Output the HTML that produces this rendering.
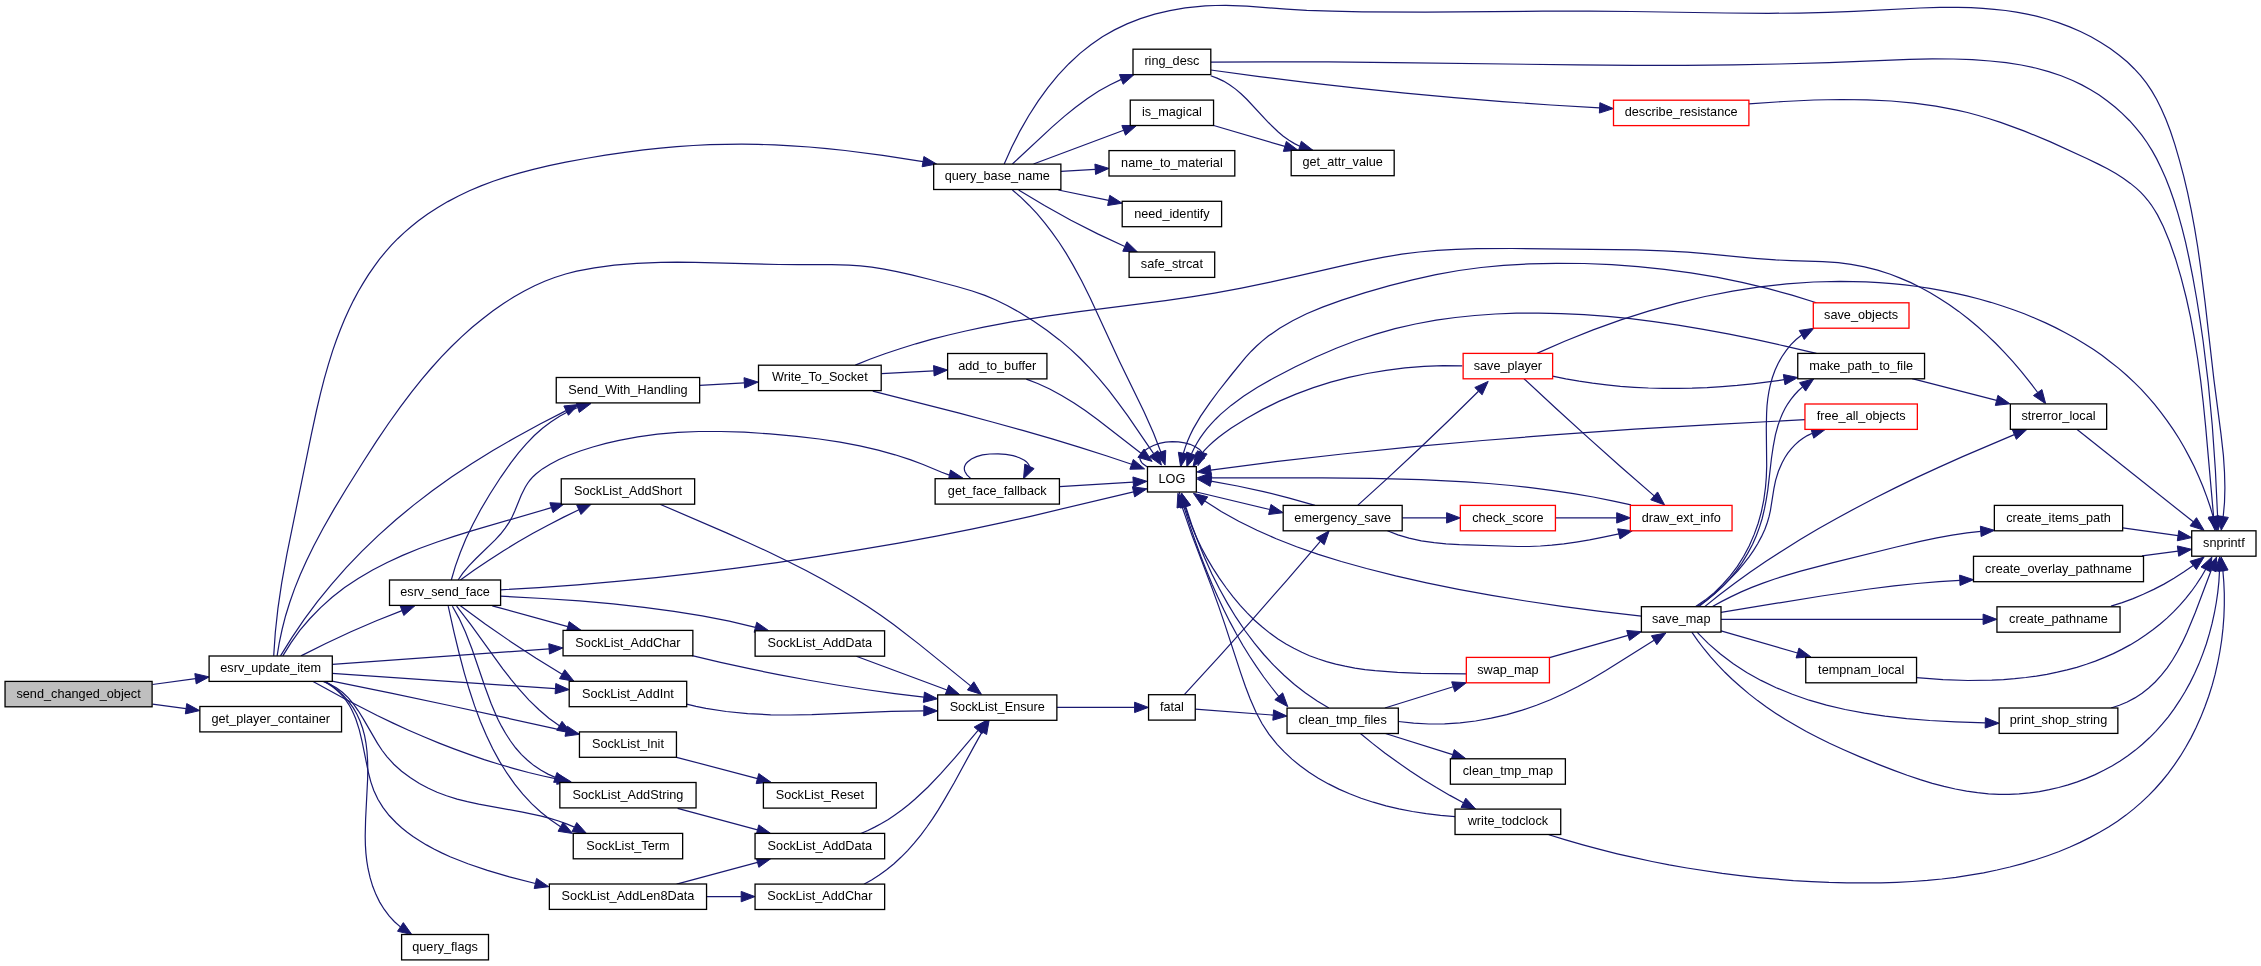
<!DOCTYPE html>
<html><head><meta charset="utf-8"><style>
html,body{margin:0;padding:0;background:#fff;overflow:hidden}
svg{display:block;will-change:transform}
.e{fill:none;stroke:#191970;stroke-width:1.2}
.a{fill:#191970;stroke:#191970;stroke-width:1}
rect{stroke-width:1.3}
text{font-family:"Liberation Sans",sans-serif;font-size:12.7px;text-anchor:middle;fill:#000}
</style></head><body>
<svg width="2261" height="966" viewBox="0 0 2261 966">
<path d="M152.5,684.5 L195.5,678.7" class="e"/>
<polygon points="209.20,676.90 196.21,683.89 194.83,673.58" class="a"/>
<path d="M152.5,704.2 L186.0,708.7" class="e"/>
<polygon points="199.70,710.60 185.33,713.90 186.72,703.59" class="a"/>
<path d="M301.0,655.9 L325.8,643.5 L350.9,631.8 L376.4,620.8 L402.0,610.6" class="e"/>
<polygon points="414.90,605.80 403.80,615.51 400.15,605.77" class="a"/>
<path d="M332.4,664.3 L549.1,648.9" class="e"/>
<polygon points="562.90,647.90 549.50,654.07 548.77,643.69" class="a"/>
<path d="M332.1,673.4 L555.4,688.7" class="e"/>
<polygon points="569.20,689.60 555.08,693.85 555.79,683.47" class="a"/>
<path d="M332.1,681.2 L391.0,693.2 L449.4,705.5 L507.7,718.2 L566.1,731.2" class="e"/>
<polygon points="579.60,734.30 564.99,736.31 567.29,726.17" class="a"/>
<path d="M312.6,681.2 L345.5,699.3 L377.2,715.5 L393.1,723.1 L408.6,730.2 L423.8,736.8 L439.1,743.1 L454.0,748.9 L469.1,754.4 L484.2,759.6 L499.1,764.3 L514.0,768.6 L528.5,772.5 L543.1,776.0 L557.6,779.2" class="e"/>
<polygon points="571.20,781.80 556.67,784.30 558.63,774.09" class="a"/>
<path d="M322.4,681.2 L329.5,684.0 L336.3,687.8 L342.4,692.2 L348.1,697.6 L353.2,703.6 L358.3,710.8 L363.3,718.9 L377.5,743.4 L382.2,750.5 L387.1,756.8 L393.8,764.2 L401.6,771.2 L410.1,777.6 L419.4,783.5 L427.9,788.0 L437.1,792.2 L446.5,795.8 L457.1,799.1 L467.3,801.7 L478.7,804.2 L522.6,812.1 L540.3,815.8 L550.0,818.4 L558.6,821.0 L566.6,823.9 L574.4,827.1" class="e"/>
<polygon points="586.60,833.50 571.96,831.76 576.75,822.53" class="a"/>
<path d="M323.8,681.2 L328.3,683.9 L332.5,686.7 L336.3,689.8 L340.1,693.3 L343.2,696.7 L346.2,700.7 L349.0,704.8 L351.6,709.5 L353.7,714.0 L355.8,719.0 L359.3,729.9 L362.0,741.2 L368.5,773.0 L370.9,782.1 L373.8,790.4 L377.9,799.2 L382.9,807.4 L389.2,815.5 L396.4,823.0 L401.6,827.7 L407.2,832.2 L413.0,836.5 L419.6,840.8 L426.4,844.9 L433.9,849.0 L441.7,852.9 L450.1,856.7 L467.9,863.8 L487.4,870.4 L509.4,876.8 L535.4,883.5" class="e"/>
<polygon points="548.80,886.70 534.17,888.53 536.60,878.41" class="a"/>
<path d="M325.2,681.2 L331.7,685.6 L338.0,690.5 L343.5,695.7 L348.7,701.6 L353.1,707.7 L356.8,714.0 L360.0,721.0 L362.6,728.3 L364.6,735.7 L366.0,743.3 L367.0,751.5 L367.6,760.9 L367.8,769.9 L367.6,779.5 L365.6,819.2 L365.2,836.0 L365.4,845.1 L365.9,853.1 L366.8,861.1 L368.0,868.5 L370.1,877.7 L372.7,886.3 L376.0,894.6 L379.7,902.1 L384.1,909.2 L389.1,915.9 L394.5,921.7 L400.4,926.9" class="e"/>
<polygon points="411.90,934.60 397.54,931.26 403.31,922.61" class="a"/>
<path d="M273.7,655.9 L275.3,632.5 L277.9,608.6 L281.7,582.9 L286.9,554.1 L311.2,435.1 L316.5,410.5 L320.4,393.8 L324.3,378.7 L328.4,364.3 L332.6,350.9 L336.4,340.0 L340.3,329.8 L344.5,319.6 L348.8,310.0 L353.4,300.6 L358.1,291.8 L363.2,283.1 L368.5,274.7 L373.9,266.8 L379.5,259.2 L385.5,251.9 L391.4,245.2 L397.7,238.7 L404.2,232.6 L411.0,226.7 L418.4,220.8 L427.7,214.0 L437.4,207.7 L447.8,201.6 L458.5,196.0 L469.4,190.8 L481.0,185.9 L493.2,181.3 L505.6,177.1 L519.2,173.1 L533.3,169.4 L549.0,165.7 L565.8,162.2 L585.6,158.5 L605.4,155.2 L624.7,152.3 L643.5,149.9 L660.4,148.1 L676.8,146.7 L693.2,145.5 L709.7,144.7 L725.6,144.3 L741.6,144.2 L758.1,144.4 L774.6,144.9 L791.6,145.8 L809.1,147.0 L827.1,148.6 L845.1,150.5 L882.8,155.3 L923.0,161.6" class="e"/>
<polygon points="936.60,164.00 922.11,166.75 923.90,156.51" class="a"/>
<path d="M277.1,655.9 L279.3,642.5 L282.2,629.0 L285.6,615.7 L289.8,602.3 L294.6,588.6 L300.2,574.8 L306.5,560.7 L313.7,546.0 L323.0,528.5 L333.6,509.9 L346.5,488.5 L363.6,461.3 L376.4,441.4 L388.5,423.5 L400.2,407.1 L411.7,391.9 L421.7,379.4 L431.4,368.0 L441.4,356.9 L451.5,346.5 L461.5,336.9 L471.9,327.5 L482.4,319.0 L492.7,311.0 L503.5,303.5 L513.7,297.0 L524.3,291.0 L534.6,285.7 L544.7,281.2 L554.6,277.5 L565.6,274.0 L576.7,271.2 L594.4,267.8 L614.3,265.1 L636.7,263.3 L660.7,262.3 L677.2,262.1 L695.2,262.3 L778.9,264.5 L797.9,264.7 L831.5,264.6 L849.0,265.1 L860.4,265.8 L871.8,267.1 L884.1,269.1 L896.9,271.6 L911.6,274.9 L930.1,279.5 L956.8,286.5 L972.2,291.0 L984.9,295.4 L995.9,300.0 L1007.6,305.7 L1019.8,312.5 L1033.8,321.3 L1047.1,330.5 L1059.4,339.9 L1070.9,349.6 L1080.4,358.5 L1089.7,368.2 L1099.0,378.7 L1108.6,390.2 L1117.7,402.2 L1127.8,415.9 L1153.6,453.7" class="e"/>
<polygon points="1161.40,465.10 1149.35,456.60 1157.95,450.76" class="a"/>
<path d="M280.5,655.9 L292.0,637.4 L304.2,619.4 L317.4,601.7 L331.3,584.6 L346.2,567.7 L361.8,551.4 L378.4,535.4 L395.9,519.8 L413.6,505.1 L432.3,490.8 L451.5,477.1 L471.6,463.8 L492.9,450.6 L515.9,437.2 L540.1,424.0 L566.1,410.6" class="e"/>
<polygon points="578.50,404.50 568.45,415.29 563.83,405.98" class="a"/>
<path d="M282.8,655.9 L291.1,642.6 L300.0,630.2 L310.0,618.5 L320.6,607.6 L332.1,597.3 L344.6,587.6 L358.2,578.5 L372.6,570.0 L387.2,562.5 L402.6,555.4 L419.3,548.5 L437.2,542.0 L454.0,536.4 L472.4,530.6 L551.4,507.7" class="e"/>
<polygon points="564.60,503.50 553.01,512.61 549.87,502.70" class="a"/>
<path d="M460.4,580.0 L474.3,570.1 L488.5,560.5 L503.2,551.0 L517.8,542.1 L533.0,533.3 L548.0,525.2 L563.2,517.4 L578.9,509.8" class="e"/>
<polygon points="591.40,504.00 581.02,514.48 576.69,505.03" class="a"/>
<path d="M451.3,580.0 L455.3,566.4 L460.2,552.7 L465.9,538.8 L472.8,524.4 L480.6,509.8 L489.8,494.3 L500.7,477.3 L510.8,462.9 L518.5,452.9 L526.3,443.8 L534.3,435.5 L542.5,428.2 L550.8,421.9 L559.6,416.2 L568.4,411.5 L577.8,407.5" class="e"/>
<polygon points="591.00,403.50 579.28,412.45 576.29,402.49" class="a"/>
<path d="M458.1,580.0 L462.8,573.1 L468.9,565.8 L475.5,559.0 L495.2,539.9 L500.6,534.0 L505.2,528.1 L509.1,522.4 L512.2,516.7 L514.9,510.7 L521.2,495.2 L525.2,487.2 L527.5,483.5 L530.1,480.0 L533.0,476.7 L536.2,473.7 L542.4,468.9 L550.1,464.2 L559.0,459.5 L568.8,455.3 L580.2,451.0 L592.8,447.0 L605.9,443.4 L619.1,440.3 L637.8,436.8 L657.5,434.2 L677.9,432.4 L698.8,431.5 L720.8,431.5 L744.4,432.2 L769.9,433.9 L796.9,436.3 L819.3,439.0 L840.1,442.1 L859.8,445.9 L878.2,450.1 L895.1,454.8 L910.8,459.9 L923.1,464.5 L941.7,472.2 L949.4,475.1" class="e"/>
<polygon points="962.90,478.10 948.30,480.18 950.56,470.03" class="a"/>
<path d="M500.5,589.8 L539.0,587.6 L577.5,584.8 L616.9,581.4 L656.2,577.6 L696.0,573.1 L736.3,568.1 L777.0,562.6 L818.1,556.4 L858.6,549.9 L898.6,543.1 L936.5,536.1 L972.9,528.9 L1002.3,522.7 L1030.6,516.3 L1133.5,491.8" class="e"/>
<polygon points="1147.00,488.80 1134.67,496.89 1132.40,486.74" class="a"/>
<path d="M492.3,605.8 L567.8,626.6" class="e"/>
<polygon points="581.10,630.30 566.41,631.64 569.18,621.62" class="a"/>
<path d="M500.5,596.2 L543.0,598.5 L579.6,600.9 L613.1,603.9 L644.1,607.3 L674.0,611.3 L702.2,615.9 L729.3,621.2 L755.4,627.3" class="e"/>
<polygon points="768.80,630.70 754.14,632.29 756.74,622.22" class="a"/>
<path d="M460.4,605.8 L485.2,623.9 L510.4,641.4 L536.1,658.2 L562.1,674.2" class="e"/>
<polygon points="574.00,681.20 559.47,678.66 564.76,669.71" class="a"/>
<path d="M456.6,606.2 L470.8,624.6 L502.8,668.8 L511.2,679.6 L518.9,688.9 L529.0,700.1 L539.0,709.8 L548.9,718.2 L559.4,725.8" class="e"/>
<polygon points="571.20,732.90 556.69,730.27 562.04,721.35" class="a"/>
<path d="M452.4,606.2 L459.0,618.1 L465.4,632.1 L472.0,649.0 L485.0,687.0 L491.0,703.2 L494.5,711.6 L498.0,719.4 L501.6,726.4 L505.5,733.3 L510.5,741.0 L515.7,748.0 L521.5,754.6 L527.5,760.3 L534.0,765.6 L540.7,770.1 L548.0,774.1 L555.3,777.4" class="e"/>
<polygon points="568.40,781.80 553.66,782.37 556.95,772.51" class="a"/>
<path d="M448.2,606.2 L454.2,633.1 L459.3,654.0 L464.2,672.6 L469.3,689.8 L474.6,705.9 L480.3,721.2 L486.3,735.3 L492.6,748.5 L499.6,761.4 L507.0,773.2 L514.7,784.2 L522.8,794.2 L531.6,803.6 L540.7,812.0 L550.4,819.8 L560.6,826.7" class="e"/>
<polygon points="572.60,833.50 558.03,831.25 563.14,822.19" class="a"/>
<path d="M660.0,504.2 L726.5,532.9 L748.5,542.7 L768.2,551.8 L787.6,561.2 L806.0,570.5 L823.2,579.8 L839.3,588.9 L853.5,597.4 L867.4,606.3 L880.7,615.3 L893.6,624.6 L919.0,644.1 L970.6,685.9" class="e"/>
<polygon points="981.50,694.40 967.43,689.98 973.84,681.80" class="a"/>
<path d="M692.1,655.7 L720.5,662.4 L749.4,668.7 L778.4,674.6 L807.5,680.0 L836.7,685.0 L865.4,689.5 L894.7,693.6 L923.9,697.2" class="e"/>
<polygon points="937.60,698.80 923.30,702.41 924.47,692.08" class="a"/>
<path d="M856.3,656.3 L947.0,690.0" class="e"/>
<polygon points="959.90,694.80 945.15,694.87 948.78,685.12" class="a"/>
<path d="M686.7,704.2 L696.0,706.4 L705.9,708.4 L726.2,711.5 L747.6,713.6 L770.7,714.8 L790.2,715.0 L811.8,714.7 L891.2,711.4 L923.8,710.8" class="e"/>
<polygon points="937.60,710.90 923.76,715.98 923.85,705.58" class="a"/>
<path d="M676.6,757.3 L757.5,778.6" class="e"/>
<polygon points="770.80,782.10 756.13,783.62 758.78,773.56" class="a"/>
<path d="M677.6,808.4 L757.5,829.9" class="e"/>
<polygon points="770.80,833.50 756.12,834.93 758.83,824.89" class="a"/>
<path d="M676.6,884.2 L757.5,862.3" class="e"/>
<polygon points="770.80,858.70 758.84,867.33 756.12,857.29" class="a"/>
<path d="M706.6,896.6 L741.2,896.6" class="e"/>
<polygon points="755.00,896.60 741.20,901.80 741.20,891.40" class="a"/>
<path d="M860.8,833.5 L867.9,830.5 L874.7,827.1 L881.4,823.5 L888.3,819.4 L894.9,814.9 L901.8,810.0 L908.5,804.7 L914.9,799.2 L927.8,787.2 L941.0,773.4 L954.8,757.8 L978.1,730.4" class="e"/>
<polygon points="987.10,720.00 982.02,733.84 974.15,727.05" class="a"/>
<path d="M863.9,884.2 L871.6,879.9 L879.3,875.0 L886.6,869.7 L894.0,863.7 L900.9,857.3 L907.6,850.6 L914.2,843.2 L920.8,835.1 L926.8,827.0 L932.5,818.8 L938.3,809.9 L944.3,799.9 L954.2,782.7 L973.9,746.6 L982.1,731.9" class="e"/>
<polygon points="989.20,720.00 986.62,734.52 977.68,729.20" class="a"/>
<path d="M1056.8,707.4 L1134.6,707.4" class="e"/>
<polygon points="1148.40,707.40 1134.60,712.60 1134.60,702.20" class="a"/>
<path d="M1059.5,486.7 L1133.2,482.2" class="e"/>
<polygon points="1147.00,481.30 1133.55,487.34 1132.91,476.96" class="a"/>
<path d="M970.6,478.4 L966.9,474.9 L964.9,471.5 L964.5,470.2 L964.3,468.4 L964.5,466.7 L965.1,465.2 L966.0,463.7 L967.5,462.0 L971.4,459.0 L976.5,456.6 L982.4,454.9 L989.7,454.0 L998.1,453.8 L1005.9,454.3 L1013.1,455.6 L1019.4,457.7 L1024.4,460.3 L1026.3,461.7 L1027.8,463.3 L1028.8,464.7 L1029.5,466.4" class="e"/>
<polygon points="1023.50,478.80 1024.80,464.11 1034.17,468.62" class="a"/>
<path d="M699.7,385.3 L744.3,382.9" class="e"/>
<polygon points="758.10,382.10 744.61,388.05 744.04,377.66" class="a"/>
<path d="M881.4,373.7 L933.8,370.8" class="e"/>
<polygon points="947.60,370.00 934.11,375.96 933.53,365.58" class="a"/>
<path d="M855.3,365.1 L869.8,359.3 L884.9,353.8 L900.0,348.7 L915.8,343.8 L932.2,339.2 L948.6,335.0 L965.7,331.0 L983.7,327.1 L1014.2,321.4 L1046.9,316.2 L1079.1,311.7 L1165.5,300.7 L1191.2,296.9 L1214.4,293.1 L1241.4,288.1 L1270.3,282.2 L1297.2,276.2 L1345.2,265.2 L1364.8,260.9 L1384.0,257.2 L1401.7,254.2 L1419.1,252.0 L1436.9,250.4 L1455.9,249.3 L1476.8,248.6 L1511.9,248.5 L1636.6,249.9 L1663.6,250.8 L1687.5,252.2 L1707.9,253.9 L1754.2,258.3 L1775.7,259.9 L1791.2,260.7 L1822.7,261.7 L1838.2,262.7 L1851.1,264.3 L1864.5,266.9 L1877.6,270.2 L1890.4,274.3 L1900.2,278.1 L1910.3,282.4 L1920.1,287.2 L1930.2,292.7 L1939.6,298.4 L1949.3,304.7 L1958.7,311.4 L1968.2,318.8 L1977.5,326.5 L1986.5,334.6 L1995.6,343.3 L2004.4,352.4 L2012.9,361.7 L2021.4,371.6 L2029.6,381.8 L2037.7,392.5" class="e"/>
<polygon points="2045.70,403.80 2033.47,395.56 2041.95,389.54" class="a"/>
<path d="M872.8,391.2 L959.3,413.2 L992.2,422.0 L1022.7,430.4 L1052.1,438.9 L1079.9,447.4 L1106.2,455.8 L1131.6,464.3" class="e"/>
<polygon points="1144.60,468.90 1129.86,469.23 1133.30,459.42" class="a"/>
<path d="M1026.3,379.1 L1037.7,383.5 L1049.7,389.0 L1061.6,395.5 L1074.0,403.0 L1085.2,410.6 L1097.8,419.8 L1141.0,453.2" class="e"/>
<polygon points="1152.10,461.40 1137.91,457.37 1144.10,449.01" class="a"/>
<path d="M1004.2,164.0 L1011.8,147.1 L1019.9,131.1 L1028.7,115.7 L1038.1,101.1 L1047.7,87.8 L1058.1,75.2 L1068.9,63.7 L1080.0,53.4 L1090.9,44.7 L1102.4,36.8 L1114.5,29.9 L1127.0,23.9 L1140.4,18.6 L1154.7,14.2 L1169.8,10.6 L1185.2,7.9 L1195.2,6.8 L1205.2,5.9 L1215.3,5.5 L1225.8,5.4 L1246.9,6.2 L1286.3,9.1 L1306.7,10.3 L1332.1,11.2 L1362.1,11.9 L1425.1,12.2 L1542.8,11.2 L1589.8,11.1 L1631.2,11.5 L1725.4,13.0 L1768.3,13.3 L1799.3,13.1 L1827.9,12.4 L1854.1,11.4 L1919.8,8.0 L1939.9,7.4 L1958.0,7.3 L1971.0,7.7 L1982.9,8.3 L1994.3,9.3 L2005.6,10.5 L2016.4,12.1 L2027.1,14.1 L2037.3,16.4 L2046.9,19.0 L2058.3,22.6 L2069.7,26.9 L2080.4,31.5 L2091.0,36.8 L2100.8,42.4 L2110.2,48.5 L2119.2,55.2 L2127.4,62.0 L2134.2,68.7 L2140.6,75.7 L2146.5,83.1 L2151.7,90.9 L2156.7,99.5 L2161.4,108.9 L2166.0,119.5 L2170.3,130.8 L2174.9,144.6 L2179.4,160.1 L2183.7,176.1 L2187.6,192.7 L2191.2,209.9 L2194.5,227.7 L2197.7,247.0 L2200.6,267.3 L2205.1,302.6 L2213.9,379.6 L2221.0,434.2 L2223.4,455.4 L2224.5,472.3 L2224.9,487.8 L2224.5,502.5 L2223.2,516.7" class="e"/>
<polygon points="2221.20,530.30 2218.10,515.88 2228.39,517.42" class="a"/>
<path d="M1012.4,164.0 L1052.0,127.1 L1064.3,116.4 L1075.3,107.5 L1087.1,98.8 L1098.8,91.1 L1110.2,84.7 L1121.3,79.4" class="e"/>
<polygon points="1134.20,74.50 1123.16,84.28 1119.45,74.56" class="a"/>
<path d="M1033.5,164.0 L1123.7,130.3" class="e"/>
<polygon points="1136.60,125.50 1125.49,135.20 1121.85,125.46" class="a"/>
<path d="M1060.9,171.4 L1095.2,169.3" class="e"/>
<polygon points="1109.00,168.40 1095.55,174.45 1094.90,164.07" class="a"/>
<path d="M1058.4,190.0 L1108.7,200.4" class="e"/>
<polygon points="1122.20,203.20 1107.63,205.50 1109.74,195.31" class="a"/>
<path d="M1018.6,190.0 L1044.5,205.6 L1070.9,220.2 L1097.7,233.9 L1124.8,246.5" class="e"/>
<polygon points="1137.50,252.00 1122.77,251.26 1126.92,241.72" class="a"/>
<path d="M1012.4,190.0 L1021.0,197.4 L1029.0,205.2 L1037.0,213.7 L1044.7,222.8 L1052.0,232.3 L1059.2,242.5 L1066.2,253.4 L1073.2,265.4 L1081.6,280.7 L1090.3,298.2 L1119.4,361.2 L1143.9,411.6 L1153.5,433.0 L1160.8,452.0" class="e"/>
<polygon points="1165.10,465.10 1155.87,453.60 1165.75,450.37" class="a"/>
<path d="M1210.7,62.1 L1266.7,61.8 L1328.7,61.9 L1394.3,62.6 L1577.6,64.9 L1634.2,65.3 L1685.2,65.3 L1733.7,64.9 L1779.2,64.0 L1829.1,62.6 L1909.3,59.3 L1932.3,58.9 L1953.4,59.0 L1972.4,59.7 L1990.1,61.0 L2006.2,62.7 L2021.2,65.0 L2035.5,68.0 L2048.7,71.6 L2061.1,75.7 L2072.7,80.5 L2081.8,84.9 L2090.6,89.8 L2099.2,95.1 L2107.4,101.0 L2115.3,107.2 L2122.4,113.6 L2129.6,120.7 L2135.9,127.8 L2141.8,135.2 L2147.0,142.5 L2152.1,150.6 L2156.7,158.9 L2161.1,167.9 L2165.6,178.0 L2169.8,188.8 L2174.0,200.7 L2178.0,213.6 L2181.9,227.7 L2185.6,242.3 L2189.1,258.5 L2192.8,277.2 L2196.6,298.5 L2200.0,319.7 L2203.1,341.0 L2208.2,382.6 L2212.3,425.8 L2215.4,470.2 L2217.6,516.5" class="e"/>
<polygon points="2218.00,530.30 2212.37,516.67 2222.76,516.34" class="a"/>
<path d="M1210.7,70.0 L1259.3,76.6 L1308.0,82.7 L1356.8,88.2 L1405.1,93.2 L1454.0,97.7 L1502.4,101.6 L1550.9,105.0 L1599.6,107.9" class="e"/>
<polygon points="1613.40,108.60 1599.35,113.08 1599.89,102.69" class="a"/>
<path d="M1210.7,75.8 L1217.1,78.1 L1223.5,81.1 L1229.5,84.7 L1235.6,89.1 L1241.3,94.0 L1247.0,99.5 L1268.7,122.8 L1278.0,131.8 L1283.3,136.3 L1289.0,140.3 L1294.5,143.6 L1299.8,146.2" class="e"/>
<polygon points="1313.00,150.30 1298.28,151.16 1301.37,141.23" class="a"/>
<path d="M1213.7,125.5 L1284.9,146.4" class="e"/>
<polygon points="1298.10,150.30 1283.39,151.40 1286.33,141.42" class="a"/>
<path d="M1748.8,103.9 L1783.9,101.5 L1814.0,100.0 L1841.2,99.5 L1867.0,99.8 L1891.1,101.0 L1914.0,103.1 L1935.8,106.1 L1956.8,110.1 L1967.4,112.5 L1978.4,115.5 L1989.3,118.7 L2000.6,122.4 L2024.5,131.1 L2050.5,141.9 L2086.8,158.5 L2098.4,164.1 L2107.5,168.8 L2115.9,173.6 L2123.6,178.4 L2130.4,183.4 L2136.5,188.4 L2140.8,192.4 L2144.5,196.3 L2148.0,200.5 L2151.2,204.8 L2154.4,209.8 L2157.5,214.9 L2163.3,226.5 L2169.5,241.5 L2175.5,258.7 L2181.1,277.6 L2186.3,298.0 L2190.5,317.1 L2194.2,337.3 L2197.6,358.5 L2200.7,380.8 L2203.2,402.2 L2205.6,426.1 L2213.6,516.6" class="e"/>
<polygon points="2215.00,530.30 2208.47,517.08 2218.82,516.06" class="a"/>
<path d="M1816.4,302.7 L1792.0,295.2 L1767.3,288.4 L1742.0,282.4 L1716.5,277.2 L1690.8,272.9 L1664.5,269.3 L1638.1,266.6 L1611.7,264.7 L1584.1,263.5 L1556.6,263.3 L1529.0,263.9 L1503.5,265.3 L1481.1,267.5 L1458.9,270.5 L1435.9,274.6 L1412.5,279.8 L1389.6,285.6 L1365.2,292.6 L1341.8,300.1 L1322.5,307.1 L1306.6,313.8 L1292.6,320.7 L1279.6,328.2 L1268.3,336.1 L1262.1,341.1 L1256.6,346.0 L1251.3,351.2 L1245.6,357.4 L1231.6,374.5 L1218.2,391.5 L1209.8,402.8 L1200.5,416.4 L1193.2,428.9 L1190.2,435.1 L1187.6,441.1 L1185.3,447.1 L1183.4,453.3" class="e"/>
<polygon points="1180.60,466.80 1178.35,452.23 1188.52,454.36" class="a"/>
<path d="M1816.4,353.4 L1785.2,346.1 L1756.3,339.7 L1729.3,334.2 L1703.3,329.3 L1678.1,325.1 L1653.8,321.6 L1630.5,318.7 L1607.5,316.4 L1584.1,314.7 L1561.1,313.6 L1538.5,313.1 L1516.4,313.2 L1495.3,314.0 L1474.8,315.5 L1455.4,317.5 L1436.1,320.2 L1415.4,324.0 L1395.0,328.7 L1375.8,334.1 L1356.3,340.5 L1336.2,348.2 L1315.9,357.0 L1294.9,367.0 L1273.8,378.0 L1257.5,387.3 L1243.5,396.3 L1231.1,405.4 L1220.5,414.4 L1215.6,419.2 L1211.2,423.8 L1207.0,428.6 L1203.4,433.3 L1200.0,438.2 L1196.9,443.2 L1194.0,448.5 L1191.5,453.8" class="e"/>
<polygon points="1186.80,466.80 1186.60,452.05 1196.38,455.59" class="a"/>
<path d="M1462.3,365.9 L1443.0,365.7 L1424.0,366.4 L1405.0,367.9 L1386.0,370.3 L1367.1,373.5 L1348.8,377.4 L1330.7,382.2 L1313.4,387.6 L1295.9,394.1 L1278.8,401.4 L1262.6,409.4 L1246.9,418.2 L1231.3,428.1 L1224.3,433.0 L1218.3,437.5 L1213.0,442.0 L1208.3,446.4 L1204.2,450.7 L1200.5,455.2" class="e"/>
<polygon points="1193.00,466.80 1196.10,452.38 1204.84,458.01" class="a"/>
<path d="M1536.9,353.4 L1564.7,341.2 L1593.1,329.9 L1620.9,319.9 L1649.2,310.9 L1677.2,303.1 L1705.0,296.5 L1732.6,291.1 L1759.8,286.9 L1786.7,283.9 L1813.6,282.0 L1840.1,281.3 L1866.0,281.9 L1879.0,282.6 L1892.0,283.6 L1905.0,284.9 L1917.4,286.5 L1929.8,288.4 L1942.2,290.6 L1954.6,293.1 L1966.9,295.9 L1979.1,299.0 L1990.8,302.3 L2002.4,306.0 L2013.4,309.7 L2024.3,313.8 L2035.0,318.2 L2045.6,322.9 L2055.5,327.6 L2065.3,332.7 L2074.9,338.0 L2084.4,343.7 L2093.6,349.6 L2102.2,355.6 L2110.5,361.9 L2118.7,368.4 L2126.6,375.2 L2134.2,382.4 L2141.3,389.4 L2148.1,396.8 L2154.6,404.4 L2160.9,412.3 L2167.2,420.8 L2173.3,429.6 L2179.0,438.5 L2184.4,447.7 L2189.4,457.1 L2194.2,466.6 L2198.8,476.7 L2202.9,486.5 L2206.8,496.9 L2210.2,506.8 L2213.2,516.9" class="e"/>
<polygon points="2216.60,530.30 2208.14,518.22 2218.21,515.64" class="a"/>
<path d="M1552.5,376.2 L1565.8,378.9 L1579.1,381.2 L1592.5,383.2 L1606.5,384.9 L1620.4,386.3 L1634.4,387.3 L1648.4,388.0 L1663.0,388.4 L1677.5,388.4 L1692.1,388.2 L1707.1,387.6 L1722.2,386.6 L1737.2,385.4 L1752.6,383.8 L1768.1,381.9 L1784.2,379.7" class="e"/>
<polygon points="1797.80,377.50 1784.99,384.80 1783.35,374.53" class="a"/>
<path d="M1524.0,378.8 L1556.1,408.5 L1588.4,437.9 L1621.0,467.0 L1654.2,495.9" class="e"/>
<polygon points="1664.60,504.90 1650.75,499.82 1657.55,491.95" class="a"/>
<path d="M1695.7,606.6 L1705.1,600.1 L1714.3,592.6 L1722.6,584.5 L1730.2,575.9 L1737.4,566.4 L1743.7,556.3 L1749.3,545.8 L1754.2,534.4 L1758.2,523.2 L1761.4,511.6 L1763.8,499.8 L1765.5,487.3 L1766.3,477.2 L1766.7,466.1 L1766.3,427.9 L1766.6,413.4 L1767.0,405.9 L1767.8,398.5 L1768.9,391.7 L1770.2,385.4 L1772.3,377.8 L1775.0,370.3 L1778.1,363.4 L1781.9,356.7 L1786.3,350.3 L1790.9,344.7 L1796.1,339.5 L1801.7,335.0" class="e"/>
<polygon points="1813.80,328.30 1804.25,339.53 1799.21,330.44" class="a"/>
<path d="M1697.5,606.6 L1706.0,600.7 L1714.4,594.0 L1722.2,586.8 L1729.5,579.1 L1736.2,570.9 L1742.3,562.4 L1747.7,553.4 L1752.6,544.2 L1756.4,535.5 L1759.5,527.1 L1762.2,518.5 L1764.5,508.7 L1766.2,499.8 L1767.8,489.8 L1771.5,458.0 L1773.2,446.6 L1775.4,434.9 L1778.1,425.0 L1780.2,419.1 L1782.4,413.7 L1785.0,408.5 L1787.8,403.8 L1790.9,399.3 L1794.4,395.0 L1798.3,390.8 L1802.6,386.9" class="e"/>
<polygon points="1813.80,378.80 1805.64,391.08 1799.56,382.65" class="a"/>
<path d="M1699.0,606.6 L1708.4,598.9 L1716.6,591.8 L1724.5,584.6 L1731.3,577.7 L1737.6,571.0 L1743.6,563.9 L1748.9,557.1 L1753.6,550.4 L1757.8,543.5 L1761.6,536.4 L1764.9,529.2 L1767.4,522.2 L1769.1,516.4 L1770.4,510.6 L1773.9,488.7 L1775.6,480.3 L1778.4,471.2 L1782.0,462.9 L1784.8,457.7 L1787.8,453.1 L1791.2,448.9 L1794.9,444.9 L1798.9,441.3 L1803.0,438.3 L1807.3,435.6 L1812.3,433.2" class="e"/>
<polygon points="1825.50,429.30 1813.74,438.20 1810.79,428.23" class="a"/>
<path d="M1805.0,419.7 L1716.5,424.3 L1634.5,429.2 L1556.6,434.6 L1482.7,440.5 L1411.4,446.9 L1342.6,454.0 L1275.5,461.7 L1210.7,470.1" class="e"/>
<polygon points="1197.00,472.00 1209.96,464.96 1211.38,475.26" class="a"/>
<path d="M1912.1,378.7 L1996.6,400.4" class="e"/>
<polygon points="2010.00,403.80 1995.34,405.41 1997.92,395.34" class="a"/>
<path d="M1704.7,606.6 L1719.2,595.0 L1734.4,583.5 L1750.3,572.1 L1766.4,561.1 L1783.2,550.2 L1800.2,539.6 L1818.3,528.8 L1836.6,518.5 L1855.5,508.2 L1875.0,498.0 L1895.7,487.6 L1916.9,477.4 L1939.2,467.1 L1962.6,456.6 L2014.3,434.6" class="e"/>
<polygon points="2027.10,429.30 2016.33,439.37 2012.36,429.76" class="a"/>
<path d="M2076.8,429.3 L2193.3,521.8" class="e"/>
<polygon points="2204.10,530.30 2190.04,525.85 2196.47,517.68" class="a"/>
<path d="M1357.7,505.4 L1388.5,477.4 L1418.9,449.0 L1449.0,420.2 L1478.5,391.2" class="e"/>
<polygon points="1488.20,381.40 1482.13,394.84 1474.77,387.49" class="a"/>
<path d="M1147.0,466.8 L1142.9,463.8 L1141.8,462.6 L1140.7,460.9 L1140.1,459.3 L1139.9,457.7 L1140.2,456.1 L1140.9,454.6 L1141.8,453.2 L1143.4,451.5 L1147.6,448.4 L1153.4,445.5 L1159.4,443.4 L1165.5,442.2 L1172.2,441.7 L1178.4,441.9 L1184.6,442.8 L1190.1,444.3 L1195.4,446.7 L1199.6,449.5 L1202.2,452.4" class="e"/>
<polygon points="1198.00,465.60 1197.19,450.87 1207.11,454.01" class="a"/>
<path d="M1196.5,492.0 L1269.8,509.5" class="e"/>
<polygon points="1283.20,512.70 1268.57,514.55 1270.98,504.44" class="a"/>
<path d="M1315.0,505.4 L1289.3,498.1 L1263.5,491.6 L1237.5,486.0 L1210.9,481.2" class="e"/>
<polygon points="1197.30,479.10 1211.74,476.09 1210.14,486.36" class="a"/>
<path d="M1402.2,517.9 L1446.6,517.9" class="e"/>
<polygon points="1460.40,517.90 1446.60,523.10 1446.60,512.70" class="a"/>
<path d="M1555.5,517.9 L1616.7,517.9" class="e"/>
<polygon points="1630.50,517.90 1616.70,523.10 1616.70,512.70" class="a"/>
<path d="M1387.4,530.8 L1397.9,534.9 L1409.0,538.2 L1421.3,540.8 L1434.1,542.7 L1446.0,543.9 L1459.5,544.7 L1517.8,546.5 L1529.3,546.5 L1540.3,546.0 L1551.8,545.2 L1563.8,543.9 L1576.2,542.1 L1589.6,539.9 L1603.4,537.2 L1618.9,533.9" class="e"/>
<polygon points="1632.30,530.80 1620.01,538.96 1617.69,528.82" class="a"/>
<path d="M1631.0,504.9 L1612.4,500.8 L1593.2,497.0 L1573.5,493.6 L1553.2,490.6 L1532.4,487.9 L1511.1,485.5 L1488.6,483.5 L1465.7,481.9 L1421.2,479.6 L1371.5,478.3 L1322.4,477.9 L1211.1,477.9" class="e"/>
<polygon points="1197.30,477.80 1211.13,472.69 1211.06,483.09" class="a"/>
<path d="M1184.3,694.6 L1218.9,656.9 L1253.0,618.8 L1286.8,580.3 L1320.3,541.3" class="e"/>
<polygon points="1329.20,530.80 1324.25,544.69 1316.32,537.97" class="a"/>
<path d="M1195.2,709.1 L1273.2,715.1" class="e"/>
<polygon points="1287.00,716.10 1272.84,720.24 1273.64,709.87" class="a"/>
<path d="M1179.2,492.0 L1190.0,525.9 L1195.4,541.5 L1200.8,556.2 L1206.3,570.2 L1212.1,584.2 L1217.8,597.1 L1223.8,609.8 L1229.9,621.9 L1236.3,633.8 L1242.8,645.2 L1249.6,656.3 L1256.5,666.7 L1263.7,677.0 L1271.3,687.0 L1278.7,696.3" class="e"/>
<polygon points="1287.80,706.70 1274.82,699.69 1282.67,692.87" class="a"/>
<path d="M1328.9,708.0 L1317.2,701.0 L1305.5,693.0 L1294.5,684.5 L1284.0,675.3 L1273.6,665.2 L1263.8,654.5 L1254.2,642.9 L1244.9,630.5 L1235.9,617.2 L1227.5,603.4 L1219.4,588.8 L1211.9,573.9 L1204.6,557.8 L1197.9,541.4 L1191.6,524.5 L1185.7,506.5" class="e"/>
<polygon points="1181.70,493.30 1190.64,505.03 1180.68,508.01" class="a"/>
<path d="M1466.4,673.9 L1420.9,673.3 L1397.5,672.4 L1375.1,670.7 L1365.0,669.6 L1354.9,668.1 L1345.0,666.2 L1335.7,664.1 L1326.5,661.6 L1317.9,658.8 L1309.5,655.7 L1301.8,652.3 L1293.8,648.3 L1286.0,643.9 L1278.0,638.9 L1269.8,633.1 L1262.0,626.8 L1254.5,620.2 L1247.4,613.1 L1240.2,605.4 L1233.1,596.8 L1226.3,588.0 L1219.3,578.1 L1212.7,567.9 L1206.8,557.9 L1201.4,547.7 L1196.4,537.3 L1192.1,527.1 L1188.3,516.8 L1185.1,506.7" class="e"/>
<polygon points="1181.70,493.30 1190.11,505.42 1180.02,507.95" class="a"/>
<path d="M1455.0,816.7 L1440.5,815.4 L1426.2,813.7 L1412.4,811.5 L1398.9,808.8 L1386.0,805.8 L1373.2,802.2 L1361.1,798.2 L1349.6,793.8 L1338.9,789.1 L1328.5,783.9 L1318.3,778.2 L1309.0,772.3 L1300.1,765.8 L1292.0,759.1 L1284.3,751.9 L1277.1,744.3 L1268.9,734.2 L1262.1,723.8 L1256.0,712.3 L1250.2,699.0 L1245.5,686.8 L1240.6,672.6 L1225.0,624.9 L1218.7,606.4 L1211.5,586.6 L1192.1,535.6 L1182.0,506.5" class="e"/>
<polygon points="1177.90,493.30 1186.97,504.93 1177.04,508.02" class="a"/>
<path d="M1641.4,616.2 L1600.2,611.3 L1562.0,606.3 L1525.8,601.0 L1491.6,595.4 L1458.5,589.3 L1426.6,582.8 L1395.7,575.8 L1366.5,568.5 L1341.3,561.5 L1318.3,554.4 L1296.6,546.8 L1276.2,538.7 L1257.0,530.3 L1238.7,521.2 L1221.2,511.4 L1204.8,501.1" class="e"/>
<polygon points="1193.40,493.30 1207.71,496.85 1201.81,505.41" class="a"/>
<path d="M1384.9,708.0 L1453.2,686.8" class="e"/>
<polygon points="1466.40,682.70 1454.76,691.76 1451.68,681.83" class="a"/>
<path d="M1549.5,657.6 L1628.1,635.4" class="e"/>
<polygon points="1641.40,631.70 1629.53,640.45 1626.71,630.44" class="a"/>
<path d="M1398.3,721.5 L1413.6,723.2 L1428.9,724.0 L1444.6,723.9 L1460.1,722.9 L1475.6,721.0 L1491.3,718.2 L1506.9,714.6 L1522.3,710.1 L1536.5,705.2 L1550.4,699.7 L1564.1,693.5 L1578.0,686.5 L1591.2,679.2 L1605.9,670.5 L1654.1,640.2" class="e"/>
<polygon points="1665.90,633.00 1656.84,644.63 1651.41,635.76" class="a"/>
<path d="M1385.4,733.5 L1452.7,754.6" class="e"/>
<polygon points="1465.90,758.70 1451.18,759.54 1454.28,749.61" class="a"/>
<path d="M1360.4,733.5 L1372.5,743.4 L1384.8,752.9 L1397.4,762.1 L1410.2,771.0 L1423.2,779.5 L1436.4,787.6 L1449.9,795.4 L1463.4,802.8" class="e"/>
<polygon points="1475.70,809.10 1461.05,807.43 1465.79,798.17" class="a"/>
<path d="M1548.8,834.8 L1565.6,839.9 L1582.9,844.9 L1599.8,849.4 L1617.3,853.8 L1634.4,857.7 L1652.0,861.5 L1669.2,864.9 L1687.0,868.0 L1722.2,873.4 L1740.1,875.7 L1758.0,877.6 L1793.4,880.6 L1811.4,881.6 L1828.9,882.4 L1846.9,882.8 L1864.4,882.9 L1880.9,882.8 L1896.9,882.3 L1912.4,881.5 L1927.4,880.4 L1941.8,879.0 L1955.8,877.3 L1969.7,875.2 L1983.6,872.8 L1997.0,870.0 L2009.9,867.0 L2022.7,863.6 L2035.5,859.8 L2047.6,855.7 L2059.2,851.5 L2070.0,847.0 L2080.2,842.4 L2090.2,837.4 L2099.6,832.3 L2108.6,826.9 L2117.5,821.2 L2126.0,815.1 L2133.8,808.9 L2141.3,802.4 L2148.5,795.6 L2155.4,788.5 L2162.0,781.0 L2168.2,773.3 L2174.4,764.9 L2180.3,756.2 L2185.7,747.2 L2191.1,737.6 L2196.0,727.7 L2200.6,717.6 L2204.9,706.8 L2208.7,696.3 L2212.2,685.2 L2215.1,674.4 L2217.7,663.0 L2219.9,651.5 L2221.7,640.0 L2223.0,628.4 L2223.9,616.8 L2224.3,605.2 L2224.3,593.6 L2223.8,582.1 L2222.9,570.7" class="e"/>
<polygon points="2221.20,557.00 2228.06,570.05 2217.74,571.34" class="a"/>
<path d="M1712.5,606.6 L1721.8,601.4 L1731.2,596.6 L1741.2,591.9 L1751.8,587.4 L1763.0,583.1 L1774.7,579.0 L1787.1,575.1 L1800.6,571.2 L1832.1,562.9 L1896.3,547.0 L1920.2,541.4 L1936.9,537.9 L1952.1,535.1 L1967.0,532.9 L1980.7,531.3" class="e"/>
<polygon points="1994.50,530.30 1981.13,536.53 1980.35,526.16" class="a"/>
<path d="M1721.0,612.3 L1821.5,596.0 L1869.2,589.0 L1894.0,585.9 L1917.0,583.5 L1939.0,581.6 L1959.8,580.3" class="e"/>
<polygon points="1973.60,579.70 1960.03,585.48 1959.59,575.09" class="a"/>
<path d="M1721.0,619.3 L1983.1,619.3" class="e"/>
<polygon points="1996.90,619.30 1983.10,624.50 1983.10,614.10" class="a"/>
<path d="M1721.0,630.9 L1797.5,653.0" class="e"/>
<polygon points="1810.80,656.80 1796.10,657.97 1798.98,647.98" class="a"/>
<path d="M1697.0,632.2 L1708.4,643.6 L1720.4,654.0 L1733.3,663.7 L1746.7,672.4 L1761.0,680.4 L1776.2,687.7 L1792.3,694.3 L1809.2,700.2 L1826.5,705.1 L1845.1,709.5 L1864.5,713.2 L1885.0,716.2 L1906.7,718.6 L1929.9,720.5 L1955.6,721.9 L1985.3,722.9" class="e"/>
<polygon points="1999.10,723.20 1985.18,728.08 1985.42,717.69" class="a"/>
<path d="M1691.8,632.2 L1697.7,640.6 L1704.1,649.0 L1710.6,656.8 L1717.6,664.7 L1724.9,672.3 L1732.4,679.5 L1740.6,686.8 L1749.0,693.9 L1757.6,700.6 L1766.4,707.0 L1775.9,713.4 L1785.5,719.6 L1795.8,725.6 L1806.3,731.5 L1817.4,737.2 L1829.5,743.2 L1843.7,749.7 L1859.5,756.6 L1877.7,764.1 L1893.9,770.4 L1907.2,775.3 L1920.2,779.6 L1932.3,783.3 L1944.0,786.4 L1955.3,789.0 L1966.6,791.1 L1977.5,792.7 L1988.5,793.8 L1999.0,794.3 L2009.0,794.4 L2019.1,793.9 L2029.7,792.9 L2039.3,791.6 L2049.3,789.7 L2058.7,787.5 L2068.1,784.9 L2077.3,781.9 L2086.4,778.4 L2095.2,774.6 L2103.9,770.3 L2112.4,765.7 L2120.2,760.9 L2128.2,755.5 L2135.4,750.1 L2142.4,744.3 L2149.4,737.8 L2155.8,731.3 L2162.2,724.2 L2168.3,716.8 L2174.3,708.6 L2179.9,700.2 L2185.2,691.5 L2190.1,682.6 L2194.6,673.4 L2198.8,664.1 L2202.7,654.1 L2206.3,644.0 L2209.4,633.7 L2212.1,623.4 L2214.4,613.0 L2216.3,602.5 L2217.8,592.1 L2218.9,581.6 L2219.5,570.8" class="e"/>
<polygon points="2219.70,557.00 2224.72,570.87 2214.32,570.73" class="a"/>
<path d="M2122.8,527.8 L2178.0,535.7" class="e"/>
<polygon points="2191.70,537.60 2177.31,540.80 2178.77,530.51" class="a"/>
<path d="M2142.0,555.8 L2178.0,551.1" class="e"/>
<polygon points="2191.70,549.30 2178.69,556.25 2177.34,545.93" class="a"/>
<path d="M2111.0,606.1 L2122.2,602.6 L2133.1,598.6 L2143.3,594.3 L2153.8,589.4 L2164.0,584.1 L2174.0,578.3 L2183.7,572.1 L2193.2,565.5" class="e"/>
<polygon points="2204.10,557.00 2196.38,569.57 2190.01,561.35" class="a"/>
<path d="M1916.5,677.6 L1943.0,679.6 L1968.0,680.5 L1991.8,680.2 L2003.5,679.6 L2014.7,678.7 L2025.8,677.5 L2036.4,676.1 L2046.9,674.3 L2057.3,672.2 L2067.1,669.9 L2076.8,667.3 L2086.4,664.3 L2095.4,661.1 L2104.6,657.4 L2113.3,653.6 L2121.8,649.4 L2130.1,644.9 L2138.2,640.0 L2145.6,635.1 L2153.2,629.5 L2160.2,624.0 L2167.0,618.1 L2173.5,611.9 L2179.7,605.4 L2185.6,598.6 L2191.3,591.5 L2196.3,584.5 L2201.1,577.2 L2205.7,569.3" class="e"/>
<polygon points="2211.90,557.00 2210.30,571.66 2201.02,566.96" class="a"/>
<path d="M2111.0,708.0 L2119.4,705.3 L2127.2,702.0 L2134.9,697.9 L2142.1,693.2 L2148.7,688.0 L2155.2,682.0 L2161.4,675.1 L2167.2,667.8 L2172.5,660.0 L2177.4,651.8 L2182.1,642.9 L2186.9,632.7 L2195.4,612.3 L2211.4,569.8" class="e"/>
<polygon points="2216.60,557.00 2216.17,571.74 2206.55,567.79" class="a"/>
<rect x="5.04" y="681.40" width="147.06" height="25.4" fill="#bfbfbf" stroke="#000000"/>
<text transform="translate(78.57,697.60) scale(1,1.05)">send_changed_object</text>
<rect x="209.10" y="656.00" width="123.20" height="25.4" fill="#ffffff" stroke="#000000"/>
<text transform="translate(270.70,672.20) scale(1,1.05)">esrv_update_item</text>
<rect x="199.85" y="706.50" width="141.70" height="25.4" fill="#ffffff" stroke="#000000"/>
<text transform="translate(270.70,722.70) scale(1,1.05)">get_player_container</text>
<rect x="401.60" y="934.50" width="86.90" height="25.4" fill="#ffffff" stroke="#000000"/>
<text transform="translate(445.05,950.70) scale(1,1.05)">query_flags</text>
<rect x="389.50" y="580.00" width="111.10" height="25.4" fill="#ffffff" stroke="#000000"/>
<text transform="translate(445.05,596.20) scale(1,1.05)">esrv_send_face</text>
<rect x="561.25" y="478.80" width="133.40" height="25.4" fill="#ffffff" stroke="#000000"/>
<text transform="translate(627.95,495.00) scale(1,1.05)">SockList_AddShort</text>
<rect x="563.05" y="630.40" width="129.80" height="25.4" fill="#ffffff" stroke="#000000"/>
<text transform="translate(627.95,646.60) scale(1,1.05)">SockList_AddChar</text>
<rect x="569.20" y="681.30" width="117.50" height="25.4" fill="#ffffff" stroke="#000000"/>
<text transform="translate(627.95,697.50) scale(1,1.05)">SockList_AddInt</text>
<rect x="579.45" y="731.90" width="97.00" height="25.4" fill="#ffffff" stroke="#000000"/>
<text transform="translate(627.95,748.10) scale(1,1.05)">SockList_Init</text>
<rect x="559.85" y="782.50" width="136.20" height="25.4" fill="#ffffff" stroke="#000000"/>
<text transform="translate(627.95,798.70) scale(1,1.05)">SockList_AddString</text>
<rect x="573.25" y="833.40" width="109.40" height="25.4" fill="#ffffff" stroke="#000000"/>
<text transform="translate(627.95,849.60) scale(1,1.05)">SockList_Term</text>
<rect x="549.35" y="884.00" width="157.20" height="25.4" fill="#ffffff" stroke="#000000"/>
<text transform="translate(627.95,900.20) scale(1,1.05)">SockList_AddLen8Data</text>
<rect x="556.25" y="377.50" width="143.40" height="25.4" fill="#ffffff" stroke="#000000"/>
<text transform="translate(627.95,393.70) scale(1,1.05)">Send_With_Handling</text>
<rect x="758.50" y="365.20" width="122.70" height="25.4" fill="#ffffff" stroke="#000000"/>
<text transform="translate(819.85,381.40) scale(1,1.05)">Write_To_Socket</text>
<rect x="755.10" y="630.80" width="129.50" height="25.4" fill="#ffffff" stroke="#000000"/>
<text transform="translate(819.85,647.00) scale(1,1.05)">SockList_AddData</text>
<rect x="763.40" y="782.70" width="112.90" height="25.4" fill="#ffffff" stroke="#000000"/>
<text transform="translate(819.85,798.90) scale(1,1.05)">SockList_Reset</text>
<rect x="755.05" y="833.40" width="129.60" height="25.4" fill="#ffffff" stroke="#000000"/>
<text transform="translate(819.85,849.60) scale(1,1.05)">SockList_AddData</text>
<rect x="755.05" y="884.10" width="129.60" height="25.4" fill="#ffffff" stroke="#000000"/>
<text transform="translate(819.85,900.30) scale(1,1.05)">SockList_AddChar</text>
<rect x="933.67" y="164.10" width="127.20" height="25.4" fill="#ffffff" stroke="#000000"/>
<text transform="translate(997.27,180.30) scale(1,1.05)">query_base_name</text>
<rect x="947.62" y="353.50" width="99.30" height="25.4" fill="#ffffff" stroke="#000000"/>
<text transform="translate(997.27,369.70) scale(1,1.05)">add_to_buffer</text>
<rect x="935.12" y="478.70" width="124.30" height="25.4" fill="#ffffff" stroke="#000000"/>
<text transform="translate(997.27,494.90) scale(1,1.05)">get_face_fallback</text>
<rect x="937.67" y="694.90" width="119.20" height="25.4" fill="#ffffff" stroke="#000000"/>
<text transform="translate(997.27,711.10) scale(1,1.05)">SockList_Ensure</text>
<rect x="1133.00" y="49.20" width="77.80" height="25.4" fill="#ffffff" stroke="#000000"/>
<text transform="translate(1171.90,65.40) scale(1,1.05)">ring_desc</text>
<rect x="1130.25" y="100.10" width="83.30" height="25.4" fill="#ffffff" stroke="#000000"/>
<text transform="translate(1171.90,116.30) scale(1,1.05)">is_magical</text>
<rect x="1109.00" y="150.60" width="125.80" height="25.4" fill="#ffffff" stroke="#000000"/>
<text transform="translate(1171.90,166.80) scale(1,1.05)">name_to_material</text>
<rect x="1122.20" y="201.30" width="99.40" height="25.4" fill="#ffffff" stroke="#000000"/>
<text transform="translate(1171.90,217.50) scale(1,1.05)">need_identify</text>
<rect x="1129.10" y="252.00" width="85.60" height="25.4" fill="#ffffff" stroke="#000000"/>
<text transform="translate(1171.90,268.20) scale(1,1.05)">safe_strcat</text>
<rect x="1147.48" y="466.60" width="48.85" height="25.4" fill="#ffffff" stroke="#000000"/>
<text transform="translate(1171.90,482.80) scale(1,1.05)">LOG</text>
<rect x="1148.55" y="694.70" width="46.70" height="25.4" fill="#ffffff" stroke="#000000"/>
<text transform="translate(1171.90,710.90) scale(1,1.05)">fatal</text>
<rect x="1291.18" y="150.30" width="103.00" height="25.4" fill="#ffffff" stroke="#000000"/>
<text transform="translate(1342.68,166.50) scale(1,1.05)">get_attr_value</text>
<rect x="1283.18" y="505.40" width="119.00" height="25.4" fill="#ffffff" stroke="#000000"/>
<text transform="translate(1342.68,521.60) scale(1,1.05)">emergency_save</text>
<rect x="1287.03" y="708.10" width="111.30" height="25.4" fill="#ffffff" stroke="#000000"/>
<text transform="translate(1342.68,724.30) scale(1,1.05)">clean_tmp_files</text>
<rect x="1460.33" y="505.40" width="95.10" height="25.4" fill="#ffffff" stroke="#ff0000"/>
<text transform="translate(1507.88,521.60) scale(1,1.05)">check_score</text>
<rect x="1463.13" y="353.40" width="89.50" height="25.4" fill="#ffffff" stroke="#ff0000"/>
<text transform="translate(1507.88,369.60) scale(1,1.05)">save_player</text>
<rect x="1466.33" y="657.40" width="83.10" height="25.4" fill="#ffffff" stroke="#ff0000"/>
<text transform="translate(1507.88,673.60) scale(1,1.05)">swap_map</text>
<rect x="1450.38" y="758.80" width="115.00" height="25.4" fill="#ffffff" stroke="#000000"/>
<text transform="translate(1507.88,775.00) scale(1,1.05)">clean_tmp_map</text>
<rect x="1455.03" y="809.10" width="105.70" height="25.4" fill="#ffffff" stroke="#000000"/>
<text transform="translate(1507.88,825.30) scale(1,1.05)">write_todclock</text>
<rect x="1613.50" y="100.20" width="135.40" height="25.4" fill="#ffffff" stroke="#ff0000"/>
<text transform="translate(1681.20,116.40) scale(1,1.05)">describe_resistance</text>
<rect x="1630.35" y="505.40" width="101.70" height="25.4" fill="#ffffff" stroke="#ff0000"/>
<text transform="translate(1681.20,521.60) scale(1,1.05)">draw_ext_info</text>
<rect x="1641.40" y="606.70" width="79.60" height="25.4" fill="#ffffff" stroke="#000000"/>
<text transform="translate(1681.20,622.90) scale(1,1.05)">save_map</text>
<rect x="1813.30" y="302.80" width="95.70" height="25.4" fill="#ffffff" stroke="#ff0000"/>
<text transform="translate(1861.15,319.00) scale(1,1.05)">save_objects</text>
<rect x="1797.75" y="353.40" width="126.80" height="25.4" fill="#ffffff" stroke="#000000"/>
<text transform="translate(1861.15,369.60) scale(1,1.05)">make_path_to_file</text>
<rect x="1804.95" y="404.00" width="112.40" height="25.4" fill="#ffffff" stroke="#ff0000"/>
<text transform="translate(1861.15,420.20) scale(1,1.05)">free_all_objects</text>
<rect x="1805.75" y="657.40" width="110.80" height="25.4" fill="#ffffff" stroke="#000000"/>
<text transform="translate(1861.15,673.60) scale(1,1.05)">tempnam_local</text>
<rect x="2010.35" y="403.90" width="96.30" height="25.4" fill="#ffffff" stroke="#000000"/>
<text transform="translate(2058.50,420.10) scale(1,1.05)">strerror_local</text>
<rect x="1994.35" y="505.40" width="128.30" height="25.4" fill="#ffffff" stroke="#000000"/>
<text transform="translate(2058.50,521.60) scale(1,1.05)">create_items_path</text>
<rect x="1973.50" y="556.30" width="170.00" height="25.4" fill="#ffffff" stroke="#000000"/>
<text transform="translate(2058.50,572.50) scale(1,1.05)">create_overlay_pathname</text>
<rect x="1996.95" y="606.80" width="123.10" height="25.4" fill="#ffffff" stroke="#000000"/>
<text transform="translate(2058.50,623.00) scale(1,1.05)">create_pathname</text>
<rect x="1999.15" y="708.00" width="118.70" height="25.4" fill="#ffffff" stroke="#000000"/>
<text transform="translate(2058.50,724.20) scale(1,1.05)">print_shop_string</text>
<rect x="2191.70" y="530.80" width="64.30" height="25.4" fill="#ffffff" stroke="#000000"/>
<text transform="translate(2223.85,547.00) scale(1,1.05)">snprintf</text>
</svg></body></html>
